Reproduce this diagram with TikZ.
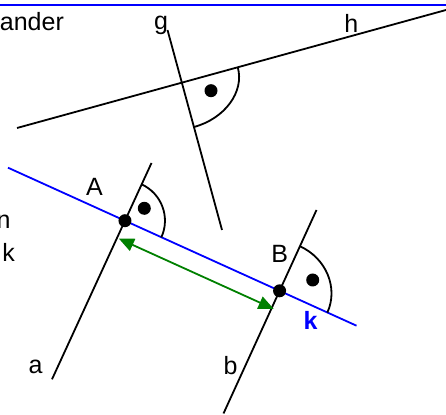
\documentclass[tikz,border=0pt]{standalone}
\usepackage{fontspec}
\setmainfont{Liberation Sans}
\usetikzlibrary{arrows.meta,calc}
\definecolor{kblue}{HTML}{0000FF}
\definecolor{distgreen}{HTML}{008000}

\begin{document}
\begin{tikzpicture}[x=1pt,y=1pt,line width=1.8pt,
  lbl/.style={inner sep=0,anchor=base,font=\fontsize{25}{30}\selectfont},
  pt/.style={circle,fill,inner sep=0,minimum size=13pt}]
  \useasboundingbox (0,0) rectangle (446,414);
  \draw[kblue,line width=2.3pt] (0,409) -- (446,409);
  \coordinate (h1) at (17,286);
  \coordinate (h2) at (446,404);
  \coordinate (g1) at (167.5,384);
  \coordinate (g2) at (222,184);
  \coordinate (k1) at (8,246.3);
  \coordinate (k2) at (356.5,88.3);
  \coordinate (a1) at (151.5,251);
  \coordinate (a2) at (52,34.7);
  \coordinate (b1) at (316.5,204);
  \coordinate (b2) at (223.5,0.5);
  \coordinate (S) at (intersection of g1--g2 and h1--h2);
  \draw (h1) -- (h2);
  \draw (g1) -- (g2);
  \draw[kblue] (k1) -- (k2);
  \draw (a1) -- (a2);
  \draw (b1) -- (b2);
  \node[pt] (A) at (intersection of a1--a2 and k1--k2) {};
  \node[pt] (B) at (intersection of b1--b2 and k1--k2) {};
  \draw[shift={(S)},rotate=15.33] (58,0) arc[start angle=0,end angle=-90,x radius=58,y radius=46];
  \draw (A.center) ++(65.3:40) arc[start angle=65.3,end angle=-24.7,radius=40];
  \draw[shift={(B.center)},rotate=-24.5] (0,49) arc[start angle=90,end angle=0,x radius=52.5,y radius=49];
  \node[pt] (rS) at (211,323.3) {};
  \node[pt] (rA) at (144.3,205.7) {};
  \node[pt] (rB) at (312.7,134) {};
  \draw[distgreen,{Triangle[length=15pt,width=13pt]}-{Triangle[length=15pt,width=13pt]}]
    ($(A.center)+(-6,-18)$) -- ($(B.center)+(-6,-18)$);
  \node[lbl] (lA) at (94.5,218) {A};
  \node[lbl] (lB) at (279.7,151.7) {B};
  \node[lbl,kblue,font=\fontsize{25}{30}\selectfont\bfseries] (lk) at (310.5,84) {k};
  \node[lbl] (la) at (35.5,40) {a};
  \node[lbl] (lb) at (230.5,39) {b};
  \node[lbl] (lg) at (161,384.3) {g};
  \node[lbl] (lh) at (351.3,381.3) {h};
  \node[lbl,anchor=base west] (t1) at (-1,383) {ander};
  \node[lbl,anchor=base east] (t2) at (11.5,185) {n};
  \node[lbl,anchor=base east] (t3) at (15.8,152.3) {k};
\end{tikzpicture}
\end{document}
